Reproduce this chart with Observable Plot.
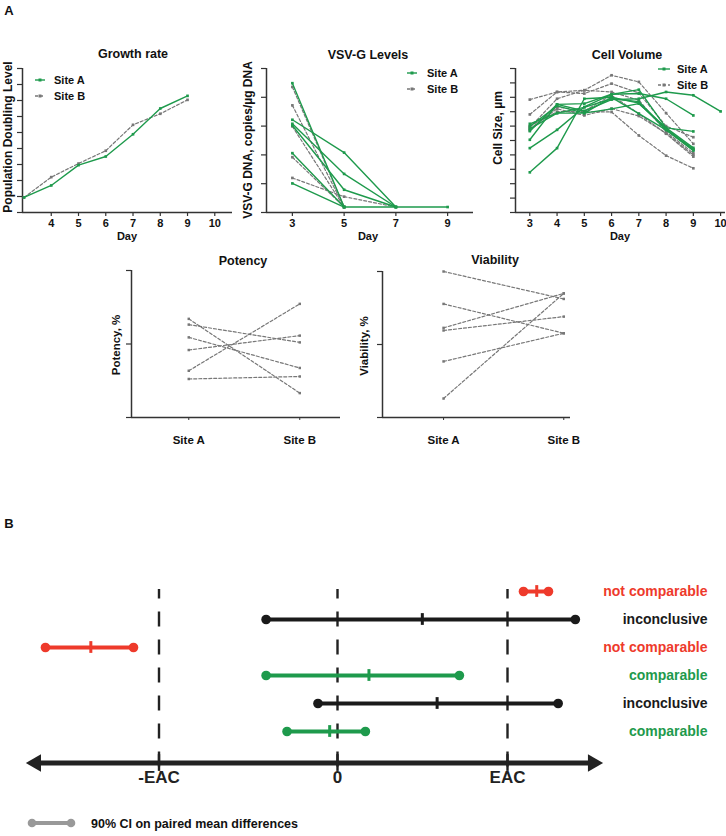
<!DOCTYPE html>
<html><head><meta charset="utf-8">
<script src="https://cdn.jsdelivr.net/npm/d3@7"></script>
<script src="https://cdn.jsdelivr.net/npm/@observablehq/plot@0.6"></script>
<style>
body{margin:0;background:#fff;font-family:"Liberation Sans",Arial,Helvetica,sans-serif;}
#root{position:relative;width:726px;height:836px;overflow:hidden;background:#fff;}
#root svg{position:absolute;overflow:visible;}
.t{position:absolute;font-weight:bold;color:#111;white-space:nowrap;transform:translate(-50%,-50%);line-height:1;}
.rot{transform:translate(-50%,-50%) rotate(-90deg);}
</style></head>
<body><div id="root"></div>
<script>
// ---------- DATA ----------
const growthDays = [3, 4, 5, 6, 7, 8, 9];
const growthSiteA = [0.94, 1.69, 2.96, 3.5, 4.89, 6.5, 7.29];
const growthSiteB = [0.94, 2.21, 3.06, 3.86, 5.48, 6.17, 7.04];

const vsvDays = [3, 5, 7, 9];
const vsvSiteA = [
  [4.49, 0.19, null, null],
  [3.22, 2.08, 0.19, null],
  [3.08, 1.34, 0.19, null],
  [3.02, 0.79, 0.19, null],
  [2.06, 0.19, null, null],
  [1.01, 0.19, 0.19, 0.19]
];
const vsvSiteB = [
  [4.36, 0.19, null, null],
  [3.72, 0.19, null, null],
  [2.99, 0.19, null, null],
  [1.92, 0.19, null, null],
  [1.20, 0.55, 0.19, null]
];

const cellDays = [3, 4, 5, 6, 7, 8, 9, 10];
const cellSiteA = [
  [2.79, 4.47, 7.9, 8.0, 7.6, 5.74, 4.3, null],
  [4.47, 5.74, 7.33, 8.2, 8.53, 5.88, 4.49, null],
  [5.05, 7.51, 7.05, 7.84, 7.9, 8.37, 8.14, 7.02],
  [5.65, 7.51, 7.56, 8.21, 8.26, 7.9, 6.74, null],
  [5.81, 6.9, 6.9, 7.2, 7.56, 5.88, 5.63, null],
  [5.98, 7.4, 6.9, 8.0, 6.86, 5.74, 4.4, null],
  [6.16, 6.9, 7.3, 7.9, 7.7, 5.8, 4.35, null]
];
const cellSiteB = [
  [7.84, 8.37, 8.49, 9.53, 9.07, 6.9, 4.77, null],
  [6.81, 8.37, 8.26, 8.95, 8.3, 6.0, 5.23, null],
  [5.9, 7.9, 8.49, 8.37, 7.8, 5.6, 4.12, null],
  [5.7, 7.33, 7.05, 8.14, 6.86, 5.47, 3.88, null],
  [5.8, 7.2, 6.74, 7.21, 6.7, 5.5, 4.0, null],
  [6.0, 7.0, 7.0, 6.98, 5.35, 3.95, 3.07, null]
];

const siteNames = ["Site A", "Site B"];
const potencySiteA = [67.1, 63.2, 54.5, 45.9, 31.8, 26.2];
const potencySiteB = [16.6, 51.1, 33.7, 55.7, 77.3, 27.9];
const viabilitySiteA = [100, 77.8, 61.4, 59.6, 38.4, 13.0];
const viabilitySiteB = [81.2, 57.7, 85.0, 69.1, 57.7, 85.0];

const ciLabels = ["not comparable", "inconclusive", "not comparable", "comparable", "inconclusive", "comparable"];
const ciStatus = ["not", "inconclusive", "not", "comparable", "inconclusive", "comparable"];
const ciLow  = [1.094, -0.42, -1.718, -0.42, -0.115, -0.297];
const ciHigh = [1.241, 1.399, -1.2, 0.717, 1.298, 0.164];
const ciMean = [1.172, 0.499, -1.451, 0.185, 0.586, -0.046];
const eacTicks = [-1.05, 0, 1];
const eacLabels = ["-EAC", "0", "EAC"];
const arrowEnds = [-1.774, 1.503];

// ---------- STYLE ----------
const FONT = '"Liberation Sans", Arial, Helvetica, sans-serif';
const GREEN = "#1e9a4c";
const GRAY = "#777777";
const RED = "#ee3a2b";
const INK = "#222222";
const statusColor = {not: RED, inconclusive: "#1a1a1a", comparable: GREEN};

const root = document.getElementById("root");
function place(el, left, top) { el.style.left = left + "px"; el.style.top = top + "px"; root.appendChild(el); return el; }
function text(str, x, y, size, opts = {}) {
  const d = document.createElement("div");
  d.className = "t" + (opts.rot ? " rot" : "");
  d.textContent = str;
  d.style.fontSize = size + "px";
  if (opts.color) d.style.color = opts.color;
  if (opts.left) d.style.transform = "translate(0,-50%)";
  return place(d, x, y);
}
function toRows(series, days, site) {
  const rows = [];
  series.forEach((vals, i) => vals.forEach((v, j) => { if (v != null) rows.push({x: days[j], y: v, id: site + i}); }));
  return rows;
}
function legend(x, y, lineLen, textX) {
  const ns = "http://www.w3.org/2000/svg";
  const svg = document.createElementNS(ns, "svg");
  svg.setAttribute("width", 80); svg.setAttribute("height", 36);
  svg.style.left = (x - 2) + "px"; svg.style.top = (y - 8) + "px";
  [[GREEN, null], [GRAY, "3,2"]].forEach(([c, dash], i) => {
    const cy = 8 + i * 16;
    const l = document.createElementNS(ns, "line");
    l.setAttribute("x1", 2); l.setAttribute("x2", 2 + lineLen); l.setAttribute("y1", cy); l.setAttribute("y2", cy);
    l.setAttribute("stroke", c); l.setAttribute("stroke-width", 1.4);
    if (dash) l.setAttribute("stroke-dasharray", dash);
    svg.appendChild(l);
    const r = document.createElementNS(ns, "rect");
    r.setAttribute("x", 2 + lineLen / 2 - 1.5); r.setAttribute("y", cy - 1.5); r.setAttribute("width", 3); r.setAttribute("height", 3); r.setAttribute("fill", c);
    svg.appendChild(r);
    const t = document.createElementNS(ns, "text");
    t.setAttribute("x", textX - x + 2); t.setAttribute("y", cy); t.setAttribute("dy", "0.35em");
    t.setAttribute("font-family", FONT); t.setAttribute("font-weight", "bold"); t.setAttribute("font-size", 11); t.setAttribute("fill", "#111");
    t.textContent = siteNames[i];
    svg.appendChild(t);
  });
  root.appendChild(svg);
}
const baseStyle = {fontFamily: FONT, fontSize: "11px", fontWeight: "bold", color: INK, background: "transparent", overflow: "visible"};

function lineChart(o) {
  const rowsA = toRows(o.seriesA, o.days, "A");
  const rowsB = toRows(o.seriesB, o.days, "B");
  const p = Plot.plot({
    width: o.width, height: o.height,
    marginTop: o.mt, marginBottom: o.mb, marginLeft: o.ml, marginRight: o.mr,
    x: {domain: o.xDomain}, y: {domain: o.yDomain},
    style: baseStyle,
    marks: [
      Plot.axisY({ticks: o.yTicks, tickSize: 5, tickFormat: () => "", label: null, stroke: "#333", strokeWidth: 1.2}),
      Plot.axisX({ticks: o.xTicks, tickSize: 4, tickPadding: 3, label: null, stroke: "#333", strokeWidth: 1.2, fill: "#111"}),
      Plot.ruleX([o.xDomain[0]], {stroke: "#333", strokeWidth: 1.5}),
      Plot.ruleY([o.yDomain[0]], {stroke: "#333", strokeWidth: 1.5}),
      Plot.line(rowsB, {x: "x", y: "y", z: "id", stroke: GRAY, strokeWidth: 1.2, strokeDasharray: "3,2"}),
      Plot.dot(rowsB, {x: "x", y: "y", symbol: "square", r: 1.5, fill: GRAY}),
      Plot.line(rowsA, {x: "x", y: "y", z: "id", stroke: GREEN, strokeWidth: 1.4}),
      Plot.dot(rowsA, {x: "x", y: "y", symbol: "square", r: 1.5, fill: GREEN})
    ]
  });
  place(p, o.left, o.top);
}

function pairedChart(o) {
  const rows = [];
  o.a.forEach((v, i) => { rows.push({x: 0, y: v, id: i}); rows.push({x: 1, y: o.b[i], id: i}); });
  const p = Plot.plot({
    width: o.width, height: o.height,
    marginTop: o.mt, marginBottom: o.mb, marginLeft: o.ml, marginRight: o.mr,
    x: {domain: o.xDomain}, y: {domain: [0, 100]},
    style: {...baseStyle, fontSize: "11.5px"},
    marks: [
      Plot.axisY({ticks: [0, 50, 100], tickSize: 5, tickFormat: () => "", label: null, stroke: "#333", strokeWidth: 1.2}),
      Plot.axisX({ticks: [0, 1], tickFormat: i => siteNames[i], tickSize: 3, tickPadding: 15, label: null, stroke: "#333", fill: "#111"}),
      o.yLine ? Plot.ruleX([o.xDomain[0]], {stroke: "#333", strokeWidth: 1.5}) : null,
      Plot.ruleY([0], {stroke: "#333", strokeWidth: 1.5}),
      Plot.line(rows, {x: "x", y: "y", z: "id", stroke: GRAY, strokeWidth: 1.2, strokeDasharray: "3,2"}),
      Plot.dot(rows, {x: "x", y: "y", symbol: "square", r: 1.4, fill: GRAY})
    ]
  });
  place(p, o.left, o.top);
}

// ---------- PANEL A ----------
text("A", 9, 10, 13);

lineChart({left: 0, top: 40, width: 240, height: 210, mt: 28, mb: 38, ml: 22, mr: 8,
  xDomain: [2.945, 10.65], yDomain: [0, 9], xTicks: [4, 5, 6, 7, 8, 9, 10], yTicks: d3.range(0, 10),
  days: growthDays, seriesA: [growthSiteA], seriesB: [growthSiteB]});
text("Growth rate", 133, 54, 12.5);
text("Population Doubling Level", 8, 137, 12, {rot: true});
text("Day", 127, 236, 11);
legend(35, 80, 10, 54);

lineChart({left: 235, top: 40, width: 240, height: 210, mt: 28, mb: 38, ml: 31, mr: 2,
  xDomain: [2, 10], yDomain: [0, 5], xTicks: [3, 5, 7, 9], yTicks: d3.range(0, 6),
  days: vsvDays, seriesA: vsvSiteA, seriesB: vsvSiteB});
text("VSV-G Levels", 368, 55, 12.5);
text("VSV-G DNA, copies/µg DNA", 248, 140, 12, {rot: true});
text("Day", 368, 236, 11);
legend(407, 73, 10, 427);

lineChart({left: 480, top: 40, width: 246, height: 210, mt: 28, mb: 38, ml: 35, mr: 1,
  xDomain: [2.475, 10.18], yDomain: [0, 10], xTicks: [3, 4, 5, 6, 7, 8, 9, 10], yTicks: d3.range(0, 11),
  days: cellDays, seriesA: cellSiteA, seriesB: cellSiteB});
text("Cell Volume", 627, 55, 12.5);
text("Cell Size, µm", 498, 128, 12, {rot: true});
text("Day", 620, 236, 11);
legend(658, 69, 12, 677);

pairedChart({left: 100, top: 250, width: 250, height: 200, mt: 20, mb: 33, ml: 31, mr: 10,
  xDomain: [-0.516, 1.367], a: potencySiteA, b: potencySiteB, yLine: true});
text("Potency", 243, 261, 12.5);
text("Potency, %", 117, 345, 11.5, {rot: true});

pairedChart({left: 350, top: 250, width: 226, height: 200, mt: 21, mb: 33, ml: 32, mr: 6,
  xDomain: [-0.508, 1.056], a: viabilitySiteA, b: viabilitySiteB, yLine: true});
text("Viability", 495, 260, 12.5);
text("Viability, %", 365, 346, 11.5, {rot: true});

// ---------- PANEL B ----------
text("B", 9, 523, 13);
const ciRows = ciLabels.map((lab, i) => ({row: i + 1, label: lab, status: ciStatus[i], low: ciLow[i], high: ciHigh[i], mean: ciMean[i]}));
const arrowY = 7.125;
const pB = Plot.plot({
  width: 726, height: 266, margin: 0,
  x: {domain: [-337 / 170, 389 / 170], axis: null},
  y: {domain: [0.25, 9.75], reverse: true, axis: null},
  style: baseStyle,
  marks: [
    Plot.ruleX(eacTicks, {y1: 0.9286, y2: 7.268, stroke: INK, strokeWidth: 2.4, strokeDasharray: "15,13", strokeDashoffset: 5.5}),
    Plot.ruleY([arrowY], {x1: arrowEnds[0], x2: arrowEnds[1], stroke: INK, strokeWidth: 5}),
    Plot.dot([arrowEnds[1]], {x: d => d, y: arrowY, symbol: "triangle", rotate: 90, r: 6.5, fill: INK}),
    Plot.dot([arrowEnds[0]], {x: d => d, y: arrowY, symbol: "triangle", rotate: -90, r: 6.5, fill: INK}),
    Plot.ruleX(eacTicks, {y1: arrowY - 0.3, y2: arrowY + 0.3, stroke: INK, strokeWidth: 2.4}),
    Plot.text(eacTicks, {x: d => d, y: arrowY, dy: 15, text: (d, i) => eacLabels[i], fontSize: 17, fontWeight: "bold", fill: INK}),
    Plot.ruleY(ciRows, {y: "row", x1: "low", x2: "high", stroke: d => statusColor[d.status], strokeWidth: 4}),
    Plot.dot(ciRows, {x: "low", y: "row", r: 4.8, fill: d => statusColor[d.status]}),
    Plot.dot(ciRows, {x: "high", y: "row", r: 4.8, fill: d => statusColor[d.status]}),
    Plot.ruleX(ciRows, {x: "mean", y1: d => d.row - 0.21, y2: d => d.row + 0.21, stroke: d => statusColor[d.status], strokeWidth: 3}),
    Plot.text(ciRows, {y: "row", frameAnchor: "right", dx: -19, textAnchor: "end", text: "label", fill: d => statusColor[d.status], fontSize: 14, fontWeight: "bold"})
  ]
});
place(pB, 0, 570);

// legend for panel B
(function () {
  const ns = "http://www.w3.org/2000/svg";
  const svg = document.createElementNS(ns, "svg");
  svg.setAttribute("width", 60); svg.setAttribute("height", 14);
  svg.style.left = "24px"; svg.style.top = "816px";
  const l = document.createElementNS(ns, "line");
  l.setAttribute("x1", 8); l.setAttribute("x2", 47); l.setAttribute("y1", 7); l.setAttribute("y2", 7);
  l.setAttribute("stroke", "#999"); l.setAttribute("stroke-width", 4);
  svg.appendChild(l);
  [8, 47].forEach(cx => { const c = document.createElementNS(ns, "circle"); c.setAttribute("cx", cx); c.setAttribute("cy", 7); c.setAttribute("r", 4.3); c.setAttribute("fill", "#999"); svg.appendChild(c); });
  root.appendChild(svg);
  text("90% CI on paired mean differences", 91, 824, 12.5, {left: true});
})();
</script>
</body></html>
